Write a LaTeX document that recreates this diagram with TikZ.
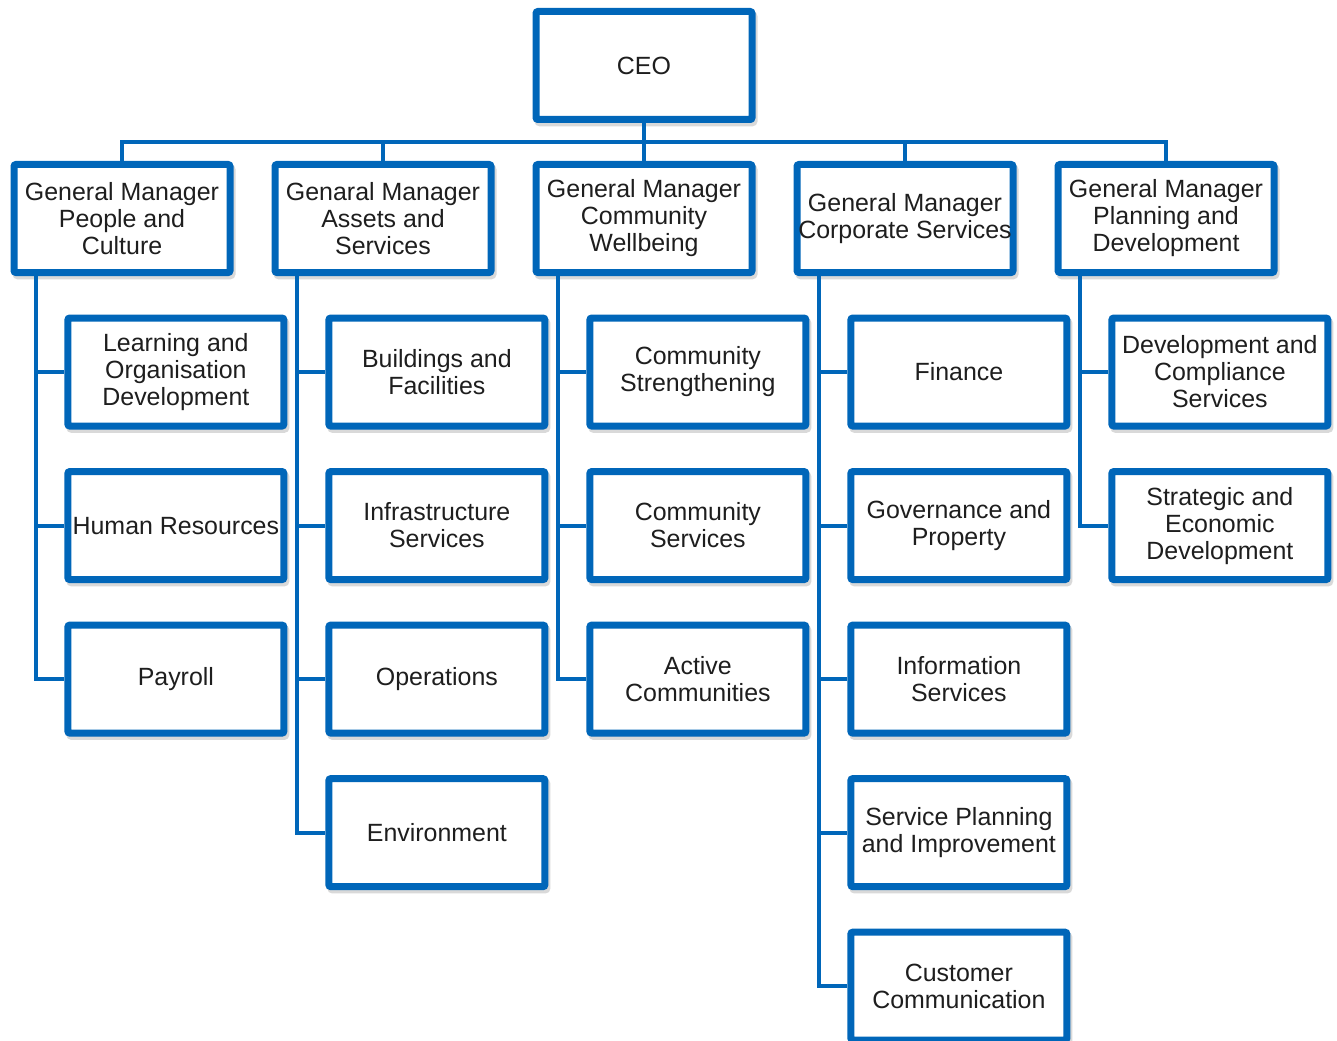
\documentclass[tikz,border=0pt]{standalone}
\usepackage{fontspec}
\setmainfont{Liberation Sans}
\usetikzlibrary{positioning,shadows}
\definecolor{unitblue}{RGB}{0,102,185}
\definecolor{unittext}{RGB}{30,30,30}

\begin{document}
\begin{tikzpicture}[unit/.style={rectangle,draw=unitblue,line width=5.25pt,fill=white,rounded corners=1.5pt,
                      minimum width=162pt,minimum height=81pt,inner sep=0pt,align=center,text=unittext,
                      font=\fontsize{18.7pt}{20.25pt}\selectfont,
                      drop shadow={shadow xshift=1.5pt,shadow yshift=-2.5pt,draw=black!25,fill=black!25,opacity=0.6}},
                    bus/.style={draw=unitblue,line width=3pt,to path={-- ++(0,-14.25pt) -| (\tikztotarget)}},
                    branch/.style={draw=unitblue,line width=3pt,to path={|- (\tikztotarget)}},
                    node distance = 28.9pt and 28.5pt]
          \useasboundingbox (0,0) rectangle (1002.75pt,-780.75pt);
          \node[unit](0) at (483pt,-49.125pt) {CEO};
          \node[unit](3)  [below = 28.5pt of 0] {General Manager\\Community\\Wellbeing};
          \node[unit](2)  [left = of 3]      {Genaral Manager\\Assets and\\Services};
          \node[unit](1)  [left = of 2]      {General Manager\\People and\\Culture};
          \node[unit](4)  [right = of 3]     {General Manager\\Corporate Services};
          \node[unit](5)  [right = of 4]     {General Manager\\Planning and\\Development};
          \node[unit](6)  [below = of 1, xshift=40.4pt] {Learning and\\Organisation\\Development};
          \node[unit](7)  [below = of 6]     {Human Resources};
          \node[unit](8)  [below = of 7]     {Payroll};
          \node[unit](9)  [below = of 2, xshift=40.4pt] {Buildings and\\Facilities};
          \node[unit](10) [below = of 9]     {Infrastructure\\Services};
          \node[unit](11) [below = of 10]    {Operations};
          \node[unit](12) [below = of 11]    {Environment};
          \node[unit](13) [below = of 3, xshift=40.4pt] {Community\\Strengthening};
          \node[unit](14) [below = of 13]    {Community\\Services};
          \node[unit](15) [below = of 14]    {Active\\Communities};
          \node[unit](16) [below = of 4, xshift=40.4pt] {Finance};
          \node[unit](17) [below = of 16]    {Governance and\\Property};
          \node[unit](18) [below = of 17]    {Information\\Services};
          \node[unit](19) [below = of 18]    {Service Planning\\and Improvement};
          \node[unit](20) [below = of 19]    {Customer\\Communication};
          \node[unit](21) [below = of 5, xshift=40.4pt] {Development and\\Compliance\\Services};
          \node[unit](22) [below = of 21]    {Strategic and\\Economic\\Development};
        \path
          (0.south) edge[bus] (1.north)
          (0.south) edge[bus] (2.north)
          (0.south) edge[bus] (3.north)
          (0.south) edge[bus] (4.north)
          (0.south) edge[bus] (5.north)
          ([xshift=19.1pt]1.south west) edge[branch] (6.west)
          ([xshift=19.1pt]1.south west) edge[branch] (7.west)
          ([xshift=19.1pt]1.south west) edge[branch] (8.west)
          ([xshift=19.1pt]2.south west) edge[branch] (9.west)
          ([xshift=19.1pt]2.south west) edge[branch] (10.west)
          ([xshift=19.1pt]2.south west) edge[branch] (11.west)
          ([xshift=19.1pt]2.south west) edge[branch] (12.west)
          ([xshift=19.1pt]3.south west) edge[branch] (13.west)
          ([xshift=19.1pt]3.south west) edge[branch] (14.west)
          ([xshift=19.1pt]3.south west) edge[branch] (15.west)
          ([xshift=19.1pt]4.south west) edge[branch] (16.west)
          ([xshift=19.1pt]4.south west) edge[branch] (17.west)
          ([xshift=19.1pt]4.south west) edge[branch] (18.west)
          ([xshift=19.1pt]4.south west) edge[branch] (19.west)
          ([xshift=19.1pt]4.south west) edge[branch] (20.west)
          ([xshift=19.1pt]5.south west) edge[branch] (21.west)
          ([xshift=19.1pt]5.south west) edge[branch] (22.west)
          ;
      \end{tikzpicture}
\end{document}
